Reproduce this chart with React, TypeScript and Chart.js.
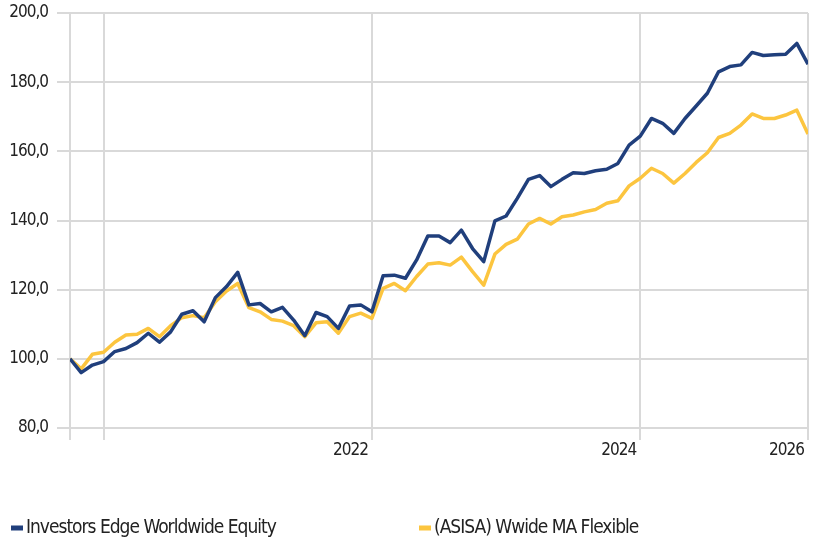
import React, { useEffect, useRef } from 'react';
import { Chart, registerables } from 'chart.js';

Chart.register(...registerables);

const seriesNames = ['Investors Edge Worldwide Equity', '(ASISA) Wwide MA Flexible'];
const seriesColors = ['#203f7c', '#fcc53f'];

const equityValues = [
  100.0, 96.0, 98.2, 99.2, 102.1, 103.0, 104.7, 107.4, 104.8, 107.8,
  112.9, 113.9, 110.7, 117.7, 120.9, 125.0, 115.6, 116.0, 113.6, 114.9,
  111.2, 106.7, 113.4, 112.2, 108.8, 115.3, 115.6, 113.6, 124.0, 124.2,
  123.3, 128.6, 135.5, 135.5, 133.6, 137.2, 131.9, 128.1, 139.9, 141.3,
  146.4, 151.9, 153.0, 149.8, 151.9, 153.8, 153.6, 154.4, 154.8, 156.5,
  161.8, 164.4, 169.5, 168.1, 165.2, 169.5, 173.1, 176.8, 183.0, 184.5,
  185.0, 188.6, 187.7, 187.9, 188.1, 191.2, 185.2,
];

const flexibleValues = [
  100.0, 97.1, 101.3, 101.9, 104.8, 106.9, 107.1, 108.8, 106.4, 109.6,
  111.9, 112.5, 111.9, 116.5, 119.6, 121.8, 114.8, 113.6, 111.4, 110.9,
  109.6, 106.4, 110.4, 110.7, 107.4, 112.2, 113.2, 111.7, 120.4, 121.8,
  119.7, 123.8, 127.4, 127.8, 127.1, 129.4, 125.2, 121.3, 130.3, 133.1,
  134.6, 139.0, 140.6, 139.0, 141.1, 141.6, 142.5, 143.2, 145.0, 145.7,
  150.0, 152.2, 155.1, 153.6, 150.8, 153.6, 156.8, 159.6, 164.0, 165.2,
  167.6, 170.8, 169.5, 169.5, 170.5, 171.9, 165.0,
];

const tickIndices = [0, 3, 27, 51, 66];
const tickLabels = ['', '', '2022', '2024', '2026'];

const yMin = 80;
const yMax = 200;
const yStep = 20;

const FONT = "'Liberation Sans Narrow', 'DejaVu Sans Condensed', 'Roboto', sans-serif";
const GRID = '#d9d9d9';
const TEXT = '#222222';

const tightText = {
  id: 'tightText',
  beforeUpdate(chart: any) {
    chart.ctx.letterSpacing = '-1px';
  },
  beforeDraw(chart: any) {
    chart.ctx.letterSpacing = '-1px';
  },
};

const legendPlugin = {
  id: 'bottomLegend',
  afterDraw(chart: any) {
    const ctx = chart.ctx;
    ctx.save();
    ctx.letterSpacing = '-1px';
    ctx.font = `19px ${FONT}`;
    ctx.textBaseline = 'middle';
    ctx.textAlign = 'left';
    chart.data.datasets.forEach((ds: any, i: number) => {
      const x = 11 + i * 408;
      const y = 528;
      ctx.fillStyle = ds.borderColor;
      ctx.fillRect(x, y - 2.5, 12, 5);
      ctx.fillStyle = TEXT;
      ctx.fillText(ds.label, x + 15, y);
    });
    ctx.restore();
  },
};

export default function App() {
  const ref = useRef<HTMLCanvasElement | null>(null);

  useEffect(() => {
    if (!ref.current) return;
    const toPoints = (arr: number[]) => arr.map((v, i) => ({ x: i, y: v }));
    const chart = new Chart(ref.current, {
      type: 'line',
      data: {
        datasets: [
          {
            label: seriesNames[0],
            data: toPoints(equityValues),
            borderColor: seriesColors[0],
            backgroundColor: seriesColors[0],
            borderWidth: 3.5,
            pointRadius: 0,
            tension: 0,
            borderJoinStyle: 'round',
          },
          {
            label: seriesNames[1],
            data: toPoints(flexibleValues),
            borderColor: seriesColors[1],
            backgroundColor: seriesColors[1],
            borderWidth: 3.5,
            pointRadius: 0,
            tension: 0,
            borderJoinStyle: 'round',
          },
        ],
      },
      options: {
        animation: false,
        responsive: false,
        devicePixelRatio: 1,
        layout: { padding: { top: 13, right: 11, bottom: 74, left: 0 } },
        plugins: {
          legend: { display: false },
          tooltip: { enabled: false },
        },
        scales: {
          x: {
            type: 'linear',
            min: 0,
            max: equityValues.length - 1,
            afterBuildTicks: (s: any) => {
              s.ticks = tickIndices.map((v) => ({ value: v }));
            },
            afterFit: (s: any) => {
              s.height = 40;
              s.paddingLeft = 0;
              s.paddingRight = 0;
            },
            ticks: {
              autoSkip: false,
              maxRotation: 0,
              align: 'end',
              labelOffset: -4,
              padding: 0,
              color: TEXT,
              font: { family: FONT, size: 17 },
              callback: (_v: any, idx: number) => tickLabels[idx] ?? '',
            },
            grid: { color: GRID, lineWidth: 2, tickLength: 12 },
            border: { color: GRID, width: 2 },
          },
          y: {
            min: yMin,
            max: yMax,
            afterFit: (s: any) => {
              s.width = 70;
              s.paddingTop = 0;
              s.paddingBottom = 0;
            },
            ticks: {
              stepSize: yStep,
              padding: 9,
              color: TEXT,
              font: { family: FONT, size: 17 },
              callback: (v: any) => Number(v).toFixed(1).replace('.', ','),
            },
            grid: { color: GRID, lineWidth: 2, tickLength: 13 },
            border: { color: GRID, width: 2 },
          },
        },
      },
      plugins: [tightText, legendPlugin],
    });
    return () => chart.destroy();
  }, []);

  return (
    <div style={{ position: 'absolute', left: 0, top: 0, width: 819, height: 542, background: '#fff' }}>
      <canvas ref={ref} width={819} height={542} />
    </div>
  );
}
